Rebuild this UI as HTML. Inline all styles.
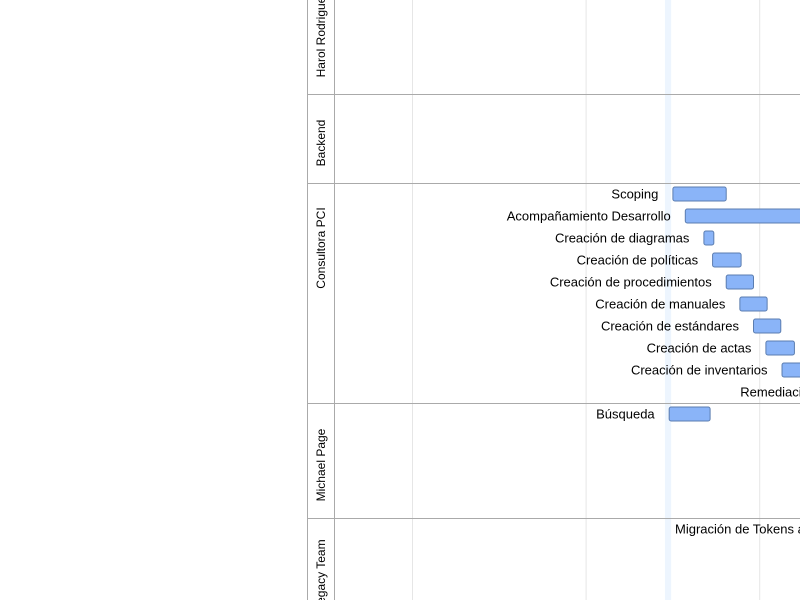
<!DOCTYPE html>
<html><head><meta charset="utf-8"><style>
html,body{margin:0;padding:0;background:#fff;}
svg{display:block;font-family:"Liberation Sans",Helvetica,Arial,sans-serif;}
</style></head><body>
<svg id="chart" width="800" height="600" viewBox="0 0 800 600"></svg>
<script>
const sectionNames=["Harol Rodriguez","Backend","Consultora PCI","Michael Page","Legacy Team"];
const sectionTops=[-40,94,183,403,518];
const sectionBottoms=[94,183,403,518,640];
const sectionLabelCenters=[34,143,248,465,575];
const taskNames=["Scoping","Acompañamiento Desarrollo","Creación de diagramas","Creación de políticas","Creación de procedimientos","Creación de manuales","Creación de estándares","Creación de actas","Creación de inventarios","Remediación de hallazgos","Búsqueda","Migración de Tokens"];
const taskStart=[21.0,22.0,23.5,24.2,25.3,26.4,27.5,28.5,29.8,39.9,20.7,50];
const taskEnd=[25.3,36,24.3,26.5,27.5,28.6,29.7,30.8,33,44,24.0,55];
const taskRowY=[194,216,238,260,282,304,326,348,370,392,414,529];
const gridDays=[0,14,28];
const todayDay=[20.4,20.9];

const svg=document.getElementById('chart');
const NS='http://www.w3.org/2000/svg';
const x0=412,k=12.4;
function xs(d){return x0+d*k;}
function mk(t,a){const e=document.createElementNS(NS,t);for(const n in a)e.setAttribute(n,a[n]);svg.appendChild(e);return e;}

let tb=mk('rect',{x:xs(todayDay[0]),y:0,width:xs(todayDay[1])-xs(todayDay[0]),height:600,fill:'#edf5fe'});


gridDays.forEach(d=>{
 const l=mk('line',{x1:xs(d)+0.5,x2:xs(d)+0.5,y1:0,y2:600,stroke:'#e6e6e6','stroke-width':1});
 
 
});
mk('line',{x1:307.5,x2:307.5,y1:0,y2:600,stroke:'#aaa'});
mk('line',{x1:334.5,x2:334.5,y1:0,y2:600,stroke:'#aaa'});
sectionNames.forEach((n,i)=>{
 if(sectionTops[i]>0){const l=mk('line',{x1:307,x2:800,y1:sectionTops[i]+0.5,y2:sectionTops[i]+0.5,stroke:'#aaa'});
 
 }
 const c=sectionLabelCenters[i];
 const t=mk('text',{x:0,y:0,transform:`translate(325,${c}) rotate(-90)`,'text-anchor':'middle','font-size':12,fill:'#000'});
 t.textContent=n;
 
 
});
taskNames.forEach((n,i)=>{
 const y=taskRowY[i];
 const b=mk('rect',{x:xs(taskStart[i])+0.5,y:y-7,width:xs(taskEnd[i])-xs(taskStart[i]),height:14,rx:2,fill:'#8ab4f8',stroke:'#5b7db0','stroke-width':1});
 
 
 const t=mk('text',{x:xs(taskStart[i])-14,y:y+4.5,'text-anchor':'end','font-size':13,fill:'#000'});
 if(n==="Migración de Tokens"){t.setAttribute('x',675);t.setAttribute('text-anchor','start');t.textContent="Migración de Tokens a HSM";}
 else t.textContent=n;
 
 
});
</script>
</body></html>
